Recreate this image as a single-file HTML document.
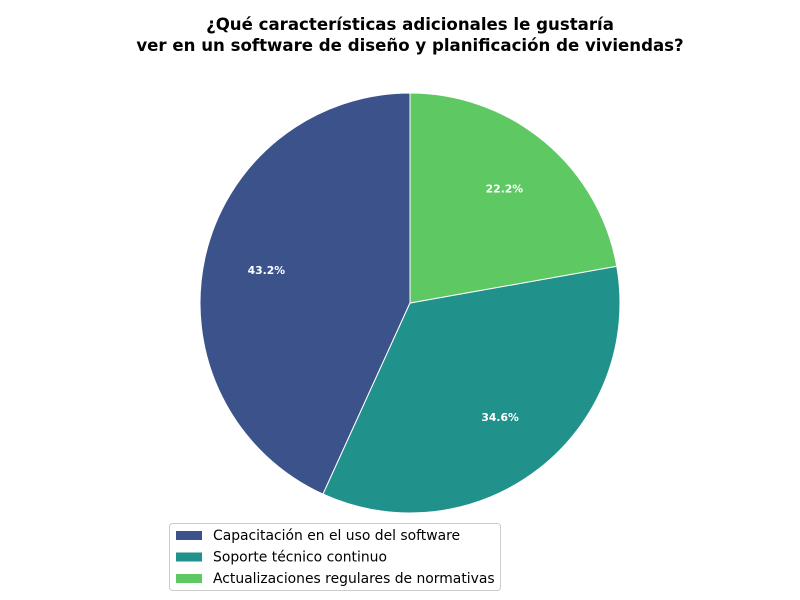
<!DOCTYPE html>
<html><head><meta charset="utf-8"><style>
body{margin:0;background:#fff;}
svg{display:block;font-family:"DejaVu Sans","Liberation Sans",sans-serif;}
</style></head><body>
<svg id="chart" width="800" height="600" viewBox="0 0 800 600">
<text x="410" y="30" text-anchor="middle" font-size="16.6" font-weight="bold">¿Qué características adicionales le gustaría</text>
<text x="410" y="51" text-anchor="middle" font-size="16.6" font-weight="bold">ver en un software de diseño y planificación de viviendas?</text>
<g id="slices"></g>
<g id="legend">
<rect x="169.5" y="523.5" width="331" height="67" rx="3" fill="#fff" stroke="#ccc"/>
</g>
</svg>
<script>
const categories=["Capacitación en el uso del software","Soporte técnico continuo","Actualizaciones regulares de normativas"];
const values=[43.2,34.6,22.2];
const colors=["#3b528b","#21918c","#5ec962"];
const cx=410,cy=303,R=210;
const ns="http://www.w3.org/2000/svg";
const g=document.getElementById('slices');
const total=values.reduce((a,b)=>a+b,0);
let ang=90;
function pt(a,r){const t=a*Math.PI/180;return [cx+r*Math.cos(t),cy-r*Math.sin(t)];}
values.forEach((v,i)=>{
  const sweep=v/total*360;
  const a0=ang,a1=ang+sweep;
  const p0=pt(a0,R),p1=pt(a1,R);
  const large=sweep>180?1:0;
  const path=document.createElementNS(ns,'path');
  path.setAttribute('d',`M${cx},${cy} L${p0[0]},${p0[1]} A${R},${R} 0 ${large} 0 ${p1[0]},${p1[1]} Z`);
  path.setAttribute('fill',colors[i]);
  path.setAttribute('stroke','#fff');
  path.setAttribute('stroke-width','1');
  
  
  g.appendChild(path);
  const lp=pt((a0+a1)/2,R*0.7);
  const t=document.createElementNS(ns,'text');
  t.setAttribute('x',lp[0]);t.setAttribute('y',lp[1]+2);
  t.setAttribute('text-anchor','middle');t.setAttribute('font-size','10.8');
  t.setAttribute('font-weight','bold');t.setAttribute('fill','#fff');
  t.textContent=v.toFixed(1)+'%';
  
  
  g.appendChild(t);
  ang=a1;
});
const lg=document.getElementById('legend');
categories.forEach((c,i)=>{
  const y=535+i*21.5;
  const r=document.createElementNS(ns,'rect');
  r.setAttribute('x',176);r.setAttribute('y',y-4);r.setAttribute('width',26);r.setAttribute('height',9);
  r.setAttribute('fill',colors[i]);
  
  
  lg.appendChild(r);
  const t=document.createElementNS(ns,'text');
  t.setAttribute('x',213);t.setAttribute('y',y+5);t.setAttribute('font-size','13.9');
  t.textContent=c;
  
  
  lg.appendChild(t);
});
</script>
</body></html>
